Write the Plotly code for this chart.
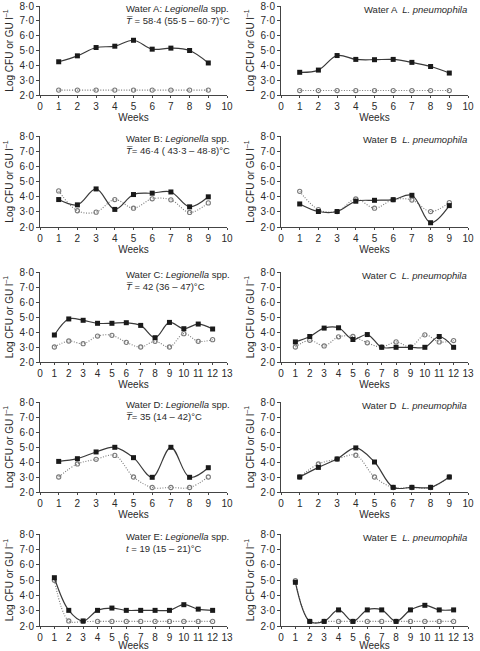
import plotly.graph_objects as go

# ---------------- data ----------------
weeks9 = [1, 2, 3, 4, 5, 6, 7, 8, 9]
weeks12 = [1, 2, 3, 4, 5, 6, 7, 8, 9, 10, 11, 12]

A_spp_solid = [4.24, 4.64, 5.2, 5.29, 5.69, 5.09, 5.16, 5.0, 4.16]
A_spp_dotted = [2.33, 2.33, 2.33, 2.33, 2.33, 2.33, 2.33, 2.33, 2.33]
A_pn_solid = [3.53, 3.68, 4.66, 4.4, 4.38, 4.4, 4.2, 3.92, 3.48]
A_pn_dotted = [2.3, 2.3, 2.3, 2.3, 2.3, 2.3, 2.3, 2.3, 2.3]

B_spp_solid = [3.81, 3.46, 4.51, 3.16, 4.14, 4.23, 4.31, 3.33, 3.99]
B_spp_dotted = [4.38, 3.07, 2.98, 3.81, 3.24, 3.86, 3.79, 2.96, 3.59]
B_pn_solid = [3.52, 3.02, 3.02, 3.7, 3.76, 3.8, 4.09, 2.28, 3.41]
B_pn_dotted = [4.35, 3.15, 3.02, 3.85, 3.24, 3.8, 3.78, 3.02, 3.61]

C_spp_solid = [3.8, 4.87, 4.78, 4.58, 4.58, 4.62, 4.44, 3.62, 4.64, 4.22, 4.53, 4.2]
C_spp_dotted = [3.0, 3.4, 3.22, 3.73, 3.78, 3.31, 3.0, 3.38, 3.0, 3.89, 3.38, 3.49]
C_pn_solid = [3.34, 3.7, 4.26, 4.28, 3.5, 3.83, 2.98, 2.98, 2.98, 2.98, 3.7, 2.98]
C_pn_dotted = [3.0, 3.45, 3.07, 3.68, 3.7, 3.28, 3.0, 3.34, 3.0, 3.81, 3.34, 3.43]

D_spp_solid = [4.04, 4.22, 4.67, 4.98, 4.29, 2.98, 4.98, 2.98, 3.62]
D_spp_dotted = [3.0, 3.87, 4.18, 4.44, 3.0, 2.3, 2.3, 2.3, 3.0]
D_pn_solid = [3.0, 3.64, 4.2, 4.94, 4.0, 2.31, 2.31, 2.31, 3.0]
D_pn_dotted = [3.0, 3.87, 4.2, 4.45, 3.0, 2.3, 2.3, 2.3, 3.0]

E_spp_solid = [5.15, 3.02, 2.33, 3.02, 3.17, 3.02, 3.02, 3.02, 3.02, 3.39, 3.1, 3.02]
E_spp_dotted = [4.98, 2.33, 2.3, 2.3, 2.3, 2.3, 2.3, 2.3, 2.3, 2.3, 2.3, 2.3]
E_pn_solid = [4.85, 2.3, 2.3, 3.05, 2.3, 3.05, 3.05, 2.3, 3.05, 3.35, 3.05, 3.05]
E_pn_dotted = [4.95, 2.3, 2.3, 2.3, 2.3, 2.3, 2.3, 2.3, 2.3, 2.3, 2.3, 2.3]

y_tickvals = [2, 3, 4, 5, 6, 7, 8]
y_ticktext = ["2·0", "3·0", "4·0", "5·0", "6·0", "7·0", "8·0"]

left_titles = [
    ("Water A: <i>Legionella</i> spp.", "<i>T\u0305</i> = 58·4 (55·5 – 60·7)°C"),
    ("Water B: <i>Legionella</i> spp.", "<i>T\u0305</i>= 46·4 ( 43·3 – 48·8)°C"),
    ("Water C: <i>Legionella</i> spp.", "<i>T\u0305</i> = 42 (36 – 47)°C"),
    ("Water D: <i>Legionella</i> spp.", "<i>T\u0305</i>= 35 (14 – 42)°C"),
    ("Water E: <i>Legionella</i> spp.", "<i>t</i> = 19 (15 – 21)°C"),
]
right_titles = [
    "Water A  <i>L. pneumophila</i>",
    "Water B  <i>L. pneumophila</i>",
    "Water C  <i>L. pneumophila</i>",
    "Water D  <i>L. pneumophila</i>",
    "Water E  <i>L. pneumophila</i>",
]

panels = [
    (weeks9, A_spp_solid, A_spp_dotted, weeks9, A_pn_solid, A_pn_dotted, 10),
    (weeks9, B_spp_solid, B_spp_dotted, weeks9, B_pn_solid, B_pn_dotted, 10),
    (weeks12, C_spp_solid, C_spp_dotted, weeks12, C_pn_solid, C_pn_dotted, 13),
    (weeks9, D_spp_solid, D_spp_dotted, weeks9, D_pn_solid, D_pn_dotted, 10),
    (weeks12, E_spp_solid, E_spp_dotted, weeks12, E_pn_solid, E_pn_dotted, 13),
]

# ---------------- layout geometry (pixels) ----------------
W, H = 480, 651
row_top = [6, 136, 272, 402, 534]
row_bot = [95, 227, 362, 492, 626]
col_x = [(40, 227), (281, 468)]

FONT = "Liberation Sans, Arial, sans-serif"
TXT = "#2a2a2a"

fig = go.Figure()
layout = dict(
    width=W, height=H, margin=dict(l=0, r=0, t=0, b=0, autoexpand=False),
    paper_bgcolor="white", plot_bgcolor="white", showlegend=False,
    font=dict(family=FONT, size=10, color=TXT),
)
annotations = []


def px_x(x):
    return x / W


def px_y(y):
    return 1 - y / H


idx = 0
for r, (wl, sl, dl, wr, sr, dr, xmax) in enumerate(panels):
    for c in range(2):
        idx += 1
        weeks = wl if c == 0 else wr
        solid = sl if c == 0 else sr
        dotted = dl if c == 0 else dr
        xa = "x" if idx == 1 else f"x{idx}"
        ya = "y" if idx == 1 else f"y{idx}"
        fig.add_trace(go.Scatter(
            x=weeks, y=dotted, xaxis=xa, yaxis=ya, mode="lines+markers",
            line=dict(color="#7a7a7a", width=1.1, dash="1px,1.6px", shape="spline", smoothing=1),
            marker=dict(symbol="circle-open", size=4.2, color="#7a7a7a", line=dict(width=1.1)),
            cliponaxis=False,
        ))
        fig.add_trace(go.Scatter(
            x=weeks, y=solid, xaxis=xa, yaxis=ya, mode="lines+markers",
            line=dict(color="#3a3a3a", width=1.2, shape="spline", smoothing=1),
            marker=dict(symbol="square", size=5, color="#1a1a1a"),
            cliponaxis=False,
        ))
        x0, x1 = col_x[c]
        key_x = "xaxis" if idx == 1 else f"xaxis{idx}"
        key_y = "yaxis" if idx == 1 else f"yaxis{idx}"
        layout[key_x] = dict(
            domain=[px_x(x0), px_x(x1)], anchor=ya, range=[0, xmax],
            tickvals=list(range(0, xmax + 1)), showline=True, linecolor="#444",
            linewidth=1, ticks="outside", ticklen=1.5, tickcolor="#444",
            showgrid=False, zeroline=False, tickfont=dict(size=10, color=TXT),
            automargin=False, ticklabeloverflow="allow",
            title=dict(text="Weeks", font=dict(size=10, color=TXT), standoff=2),
        )
        layout[key_y] = dict(
            domain=[px_y(row_bot[r]), px_y(row_top[r])], anchor=xa, range=[2, 8],
            tickvals=y_tickvals, ticktext=y_ticktext, showline=True, linecolor="#444",
            linewidth=1, ticks="outside", ticklen=3, tickcolor="#444",
            showgrid=False, zeroline=False, tickfont=dict(size=10, color=TXT),
            automargin=False, ticklabeloverflow="allow",
            title=dict(text="Log CFU or GU l<sup>–1</sup>", font=dict(size=10, color=TXT), standoff=4),
        )
        if c == 0:
            l1, l2 = left_titles[r]
            annotations.append(dict(
                xref="paper", yref="paper", x=px_x(124), y=px_y(row_top[r] - 5),
                xanchor="left", yanchor="top", align="left", showarrow=False,
                text=l1 + "<br>" + l2, font=dict(size=9.5, color=TXT),
            ))
        else:
            annotations.append(dict(
                xref="paper", yref="paper", x=px_x(x1 + 1), y=px_y(row_top[r] - 4),
                xanchor="right", yanchor="top", align="right", showarrow=False,
                text=right_titles[r], font=dict(size=9.5, color=TXT),
            ))

layout["annotations"] = annotations
fig.update_layout(**layout)
fig.write_html(
    "out.html",
    config={"displayModeBar": False},
    post_script="document.body.style.margin='0';document.body.style.overflow='hidden';",
)
